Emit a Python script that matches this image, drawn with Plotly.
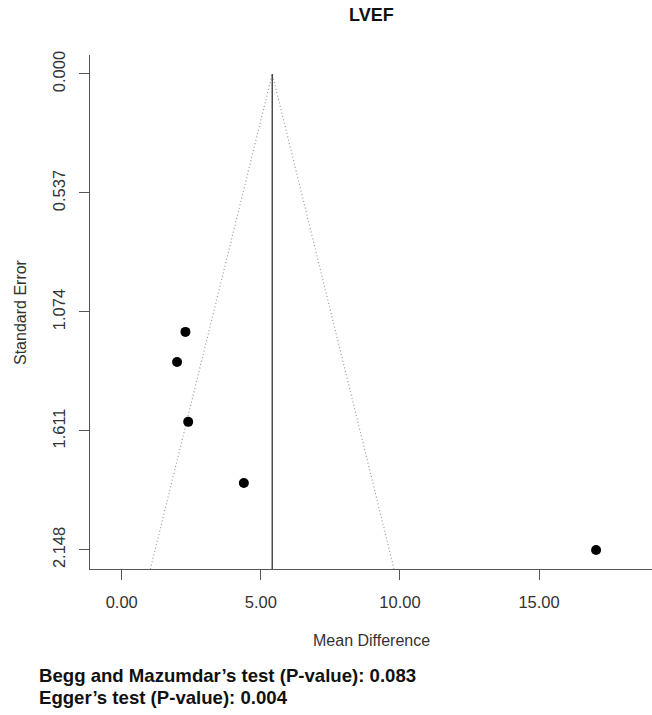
import plotly.graph_objects as go

# ---- data ----
mean_diff = [2.29, 1.99, 2.39, 4.39, 17.05]
std_err = [1.164, 1.300, 1.570, 1.846, 2.148]
pooled_md = 5.41
z_crit = 1.96
y_tick_vals = [0.000, 0.537, 1.074, 1.611, 2.148]
y_tick_text = ["0.000", "0.537", "1.074", "1.611", "2.148"]
x_tick_vals = [0, 5, 10, 15]
x_tick_text = ["0.00", "5.00", "10.00", "15.00"]
title_text = "LVEF"
x_title = "Mean Difference"
y_title = "Standard Error"
footer_lines = ["Begg and Mazumdar\u2019s test (P-value): 0.083",
                "Egger\u2019s test (P-value): 0.004"]

# ---- layout geometry ----
W, H = 652, 715
ml, mr, mt, mb = 90, 0, 55, 146
x_range = [-1.14, 19.06]
y_range = [2.234, -0.0857]
se_bottom = y_range[0]

FONT = "Liberation Sans, Arial, Helvetica, sans-serif"

fig = go.Figure()

# funnel (pseudo 95% CI)
fig.add_trace(go.Scatter(
    x=[pooled_md - z_crit * se_bottom, pooled_md, pooled_md + z_crit * se_bottom],
    y=[se_bottom, 0, se_bottom],
    mode="lines", line=dict(color="#999999", width=1.2, dash="1px,2.5px"),
    hoverinfo="skip", showlegend=False))

# pooled estimate vertical line
fig.add_trace(go.Scatter(
    x=[pooled_md, pooled_md], y=[0, se_bottom],
    mode="lines", line=dict(color="#333333", width=1.3),
    hoverinfo="skip", showlegend=False))

# studies
fig.add_trace(go.Scatter(
    x=mean_diff, y=std_err, mode="markers",
    marker=dict(color="black", size=10),
    showlegend=False))

pw, ph = W - ml - mr, H - mt - mb

def px_x(p):
    return (p - ml) / pw

def px_y(p):
    return (H - mb - p) / ph

annotations = [
    dict(text="<b>" + title_text + "</b>", x=0.5, y=px_y(15), xref="paper", yref="paper",
         xanchor="center", yanchor="middle", showarrow=False,
         font=dict(family=FONT, size=18, color="#111111")),
    dict(text=x_title, x=0.5, y=px_y(640), xref="paper", yref="paper",
         xanchor="center", yanchor="middle", showarrow=False,
         font=dict(family=FONT, size=16, color="#333333")),
    dict(text=y_title, x=px_x(20), y=px_y(312), xref="paper", yref="paper",
         xanchor="center", yanchor="middle", textangle=-90, showarrow=False,
         font=dict(family=FONT, size=16, color="#333333")),
]
for i, line in enumerate(footer_lines):
    annotations.append(dict(
        text="<b>" + line + "</b>", x=px_x(37), y=px_y(675 + 22 * i),
        xref="paper", yref="paper", xanchor="left", yanchor="middle",
        showarrow=False, font=dict(family=FONT, size=18.6, color="#111111")))

fig.update_layout(
    width=W, height=H,
    margin=dict(l=ml, r=mr, t=mt, b=mb),
    paper_bgcolor="white", plot_bgcolor="white",
    font=dict(family=FONT, color="#333333"),
    xaxis=dict(range=x_range, tickvals=x_tick_vals, ticktext=x_tick_text,
               showgrid=False, zeroline=False, showline=True,
               linecolor="#555555", linewidth=1.2,
               ticks="outside", ticklen=10, tickcolor="#555555", tickwidth=1.2,
               ticklabelstandoff=8,
               tickfont=dict(family=FONT, size=16.5, color="#333333")),
    yaxis=dict(range=y_range, tickvals=y_tick_vals, ticktext=y_tick_text,
               showgrid=False, zeroline=False, showline=True,
               linecolor="#555555", linewidth=1.2,
               ticks="outside", ticklen=10, tickcolor="#555555", tickwidth=1.2,
               tickangle=-90, ticklabelstandoff=7,
               tickfont=dict(family=FONT, size=16.5, color="#333333")),
    annotations=annotations,
)

fig.write_html("out.html")
